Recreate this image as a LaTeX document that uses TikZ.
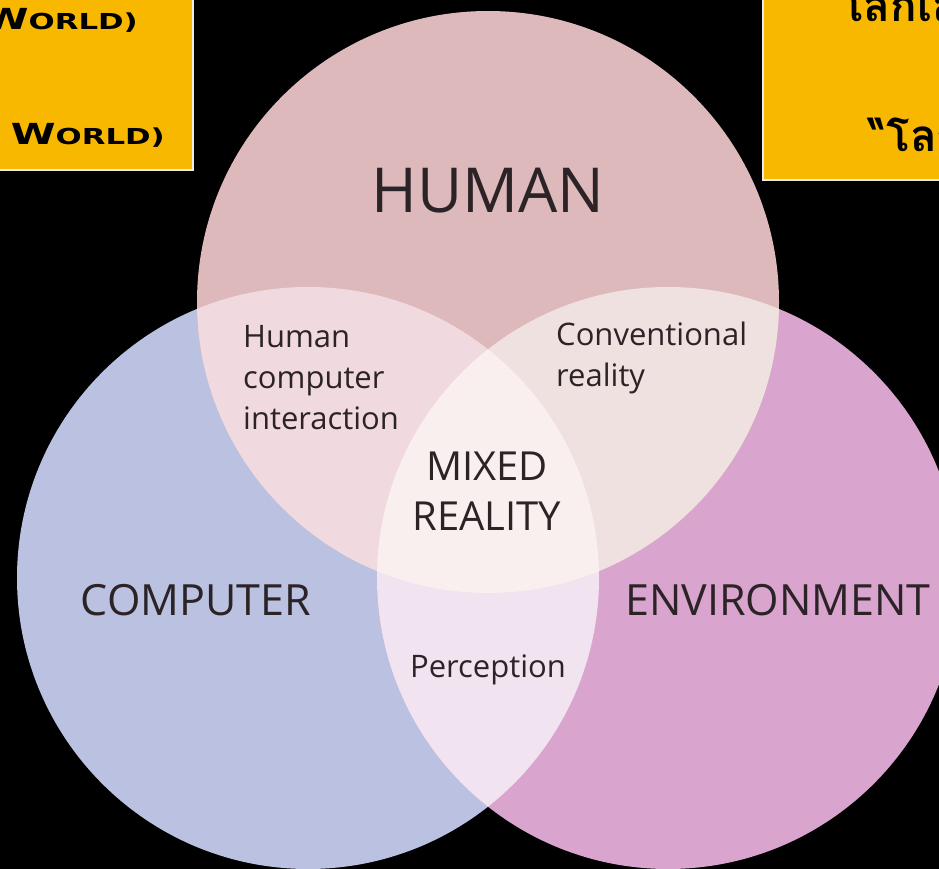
\documentclass[tikz,border=0pt]{standalone}
\usepackage{fontspec}
\setmainfont{Open Sans}
\newfontfamily\thaifont[Script=Thai]{Loma}
\newfontfamily\boxfont[FakeStretch=1.4]{DejaVu Sans}
\usetikzlibrary{positioning}

\definecolor{humanfill}{HTML}{DDB9BC}
\definecolor{computerfill}{HTML}{BAC1E1}
\definecolor{envfill}{HTML}{D9A4CE}
\definecolor{hcfill}{HTML}{F0DADF}
\definecolor{hefill}{HTML}{F0E1E1}
\definecolor{cefill}{HTML}{F1E3EF}
\definecolor{mixfill}{HTML}{F9EFEF}
\definecolor{boxyellow}{HTML}{F9B800}
\definecolor{labelgray}{HTML}{2B2326}

\tikzset{
  big label/.style={text=labelgray, inner sep=0pt, font=\fontsize{43}{50}\selectfont},
  small label/.style={text=labelgray, inner sep=0pt, align=left, font=\fontsize{31}{41}\selectfont},
  note box/.style={fill=boxyellow, draw=white!85!gray, line width=1.5pt},
  box text/.style={inner sep=0pt, text=black}
}

\newcommand{\fakecaps}[2]{{\fontsize{29}{29}\selectfont #1}{\fontsize{22}{22}\selectfont #2}}
\def\rad{291pt}

\begin{document}
\begin{tikzpicture}[x=1pt,y=-1pt]
    \useasboundingbox (0,0) rectangle (939,869);
    \fill[black] (0,0) rectangle (939,869);
    \clip (0,0) rectangle (939,869);

    \coordinate (humanc) at (488,302);
    \coordinate (computerc) at (308,578);
    \coordinate (envc) at (668,578);

    % circles
    \fill[computerfill] (computerc) circle[radius=\rad];
    \fill[envfill] (envc) circle[radius=\rad];
    \fill[humanfill] (humanc) circle[radius=\rad];

    % overlaps
    \begin{scope}
        \clip (humanc) circle[radius=\rad];
        \fill[hcfill] (computerc) circle[radius=\rad];
        \fill[hefill] (envc) circle[radius=\rad];
    \end{scope}
    \begin{scope}
        \clip (computerc) circle[radius=\rad];
        \fill[cefill] (envc) circle[radius=\rad];
        \clip (envc) circle[radius=\rad];
        \fill[mixfill] (humanc) circle[radius=\rad];
    \end{scope}

    % labels
    \node[big label, font=\fontsize{62}{62}\selectfont, anchor=base] (human) at (488,212) {HUMAN};
    \node[big label, anchor=base] (computer) at (196,615) {COMPUTER};
    \node[big label, anchor=base] (environment) at (778,615) {ENVIRONMENT};
    \node[small label, anchor=north west] (hci) at (243,325) {Human\\computer\\interaction};
    \node[small label, anchor=north west] (conventional) at (556,322) {Conventional\\reality};
    \node[big label, font=\fontsize{40}{50}\selectfont, align=center, anchor=north] (mixed) at (487,452) {MIXED\\REALITY};
    \node[small label, anchor=base] (perception) at (488,677) {Perception};

    % note boxes
    \draw[note box] (-10,-10) rectangle (193,170);
    \draw[note box] (763,-10) rectangle (950,180);

    \node[box text, font=\boxfont\bfseries, anchor=base east] (worldtop) at (138,30) {\fakecaps{W}{ORLD)}};
    \node[box text, font=\boxfont\bfseries, anchor=base east] (worldbottom) at (165,145) {\fakecaps{W}{ORLD)}};
    \node[box text, font=\thaifont\bfseries\fontsize{44}{44}\selectfont, anchor=base west] (thaitop) at (840,22) {โลกเสมือน};
    \node[box text, font=\thaifont\bfseries\fontsize{44}{44}\selectfont, anchor=base west] (thaibottom) at (868,152) {“โลกเสมือน};
\end{tikzpicture}
\end{document}
